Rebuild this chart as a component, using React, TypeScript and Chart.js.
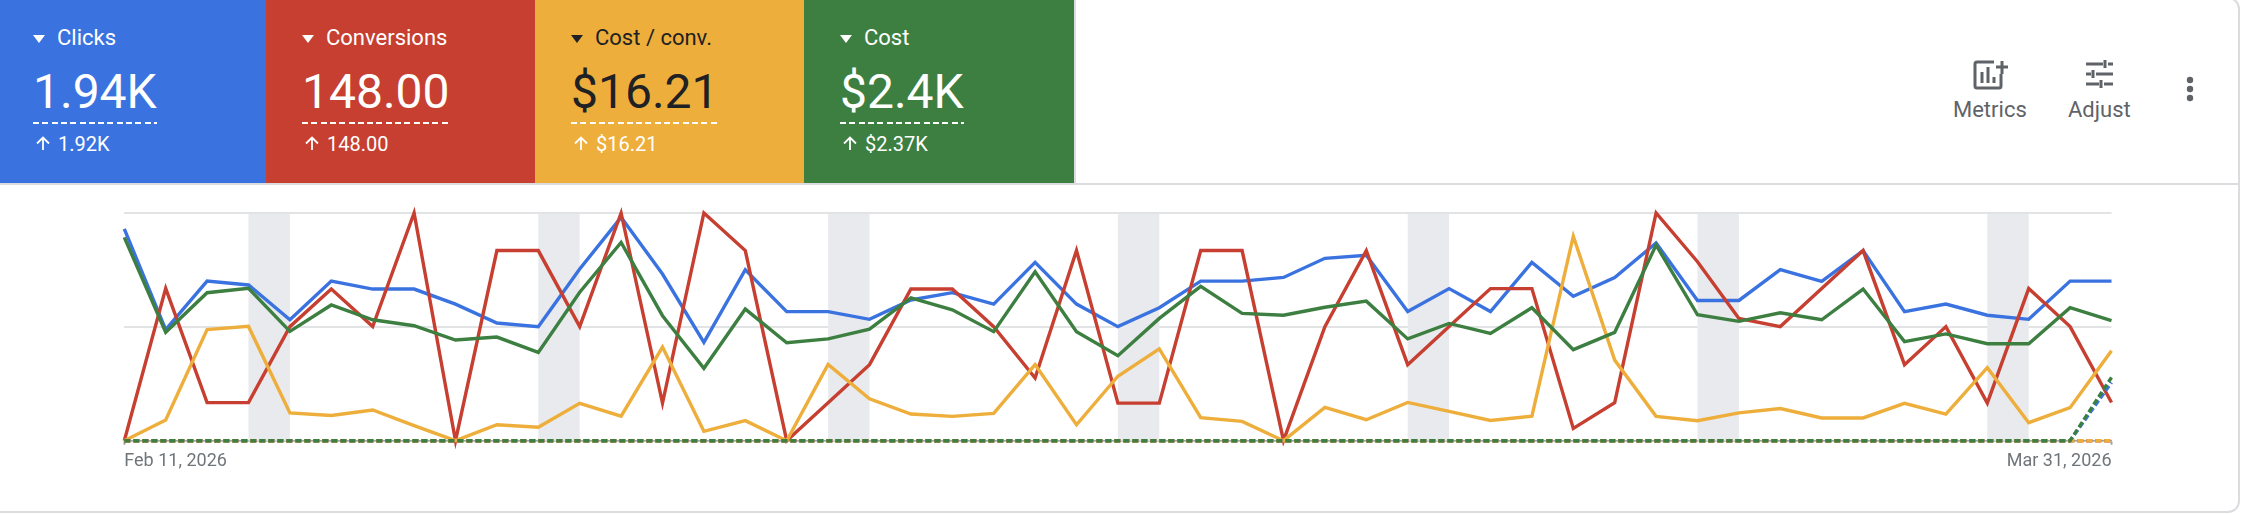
import React, { useRef, useEffect } from "react";
import { Chart, registerables } from "chart.js";

Chart.register(...registerables);

const dates = [
	"Feb 11, 2026", "Feb 12, 2026", "Feb 13, 2026", "Feb 14, 2026", "Feb 15, 2026", "Feb 16, 2026", "Feb 17, 2026",
	"Feb 18, 2026", "Feb 19, 2026", "Feb 20, 2026", "Feb 21, 2026", "Feb 22, 2026", "Feb 23, 2026", "Feb 24, 2026",
	"Feb 25, 2026", "Feb 26, 2026", "Feb 27, 2026", "Feb 28, 2026", "Mar 1, 2026", "Mar 2, 2026", "Mar 3, 2026",
	"Mar 4, 2026", "Mar 5, 2026", "Mar 6, 2026", "Mar 7, 2026", "Mar 8, 2026", "Mar 9, 2026", "Mar 10, 2026",
	"Mar 11, 2026", "Mar 12, 2026", "Mar 13, 2026", "Mar 14, 2026", "Mar 15, 2026", "Mar 16, 2026", "Mar 17, 2026",
	"Mar 18, 2026", "Mar 19, 2026", "Mar 20, 2026", "Mar 21, 2026", "Mar 22, 2026", "Mar 23, 2026", "Mar 24, 2026",
	"Mar 25, 2026", "Mar 26, 2026", "Mar 27, 2026", "Mar 28, 2026", "Mar 29, 2026", "Mar 30, 2026", "Mar 31, 2026",
];

// each metric is on its own hidden axis in the original, so values are % of axis height
const clicks = [
	93.0, 48.8, 70.1, 68.4, 53.1, 70.1, 66.6, 66.6, 60.0, 51.7, 50.1, 75.4, 98.1,
	73.2, 43.2, 75.1, 56.7, 56.7, 53.3, 61.8, 65.0, 60.0, 78.3, 60.0, 50.1, 58.4,
	70.1, 70.1, 71.7, 80.1, 81.4, 56.7, 66.8, 56.7, 78.3, 63.4, 71.7, 86.8, 61.6, 61.6,
	75.1, 70.0, 83.5, 56.7, 60.0, 55.1, 53.3, 70.1, 70.1,
];
const conversions = [
	0, 66.9, 16.7, 16.7, 50.1, 66.6, 50.1, 100, 0, 83.5, 83.5, 50.1, 100,
	16.5, 100, 83.5, 0, 16.7, 33.4, 66.6, 66.6, 50.1, 27.5, 83.5, 16.5, 16.5,
	83.5, 83.5, 0, 50.1, 83.5, 33.4, 50.1, 66.8, 66.8, 5.4, 16.7, 100, 78.6, 53.7,
	50.1, 66.8, 83.5, 33.4, 50.1, 16.5, 66.8, 50.1, 16.8,
];
const costPerConv = [
	0, 9.1, 48.8, 50.2, 12.2, 11.1, 13.5, 6.6, 0, 7.0, 5.9, 16.4, 10.8,
	41.1, 4.1, 8.8, 0, 33.5, 18.4, 11.7, 10.7, 12.0, 33.4, 7.0, 28.3, 40.3,
	10.1, 8.5, 0, 14.6, 9.2, 16.8, 12.9, 8.9, 10.8, 89.8, 35.4, 10.7, 8.8, 12.2,
	14.1, 10.0, 10.0, 16.4, 11.7, 32.1, 7.9, 14.5, 39.5,
];
const cost = [
	89.3, 47.6, 65.0, 66.9, 48.0, 59.6, 53.1, 50.5, 44.2, 45.5, 38.8, 65.2, 87.1,
	54.9, 31.8, 57.8, 43.0, 44.7, 49.0, 62.7, 57.5, 47.9, 74.2, 47.9, 37.3, 53.7,
	67.8, 55.9, 55.1, 58.6, 61.3, 44.7, 51.5, 47.1, 58.4, 40.0, 47.6, 85.9, 55.3, 52.4,
	56.2, 53.1, 66.6, 43.5, 46.9, 42.6, 42.6, 58.4, 52.7,
];

// comparison period, dashed
const prevClicks = [
	0, 0, 0, 0, 0, 0, 0, 0, 0, 0, 0, 0, 0, 0, 0, 0, 0, 0, 0, 0, 0, 0, 0, 0, 0,
	0, 0, 0, 0, 0, 0, 0, 0, 0, 0, 0, 0, 0, 0, 0, 0, 0, 0, 0, 0, 0, 0, 0, 25.6,
];
const prevConversions = [
	0, 0, 0, 0, 0, 0, 0, 0, 0, 0, 0, 0, 0, 0, 0, 0, 0, 0, 0, 0, 0, 0, 0, 0, 0,
	0, 0, 0, 0, 0, 0, 0, 0, 0, 0, 0, 0, 0, 0, 0, 0, 0, 0, 0, 0, 0, 0, 0, 0,
];
const prevCostPerConv = [
	0, 0, 0, 0, 0, 0, 0, 0, 0, 0, 0, 0, 0, 0, 0, 0, 0, 0, 0, 0, 0, 0, 0, 0, 0,
	0, 0, 0, 0, 0, 0, 0, 0, 0, 0, 0, 0, 0, 0, 0, 0, 0, 0, 0, 0, 0, 0, 0, 0,
];
const prevCost = [
	0, 0, 0, 0, 0, 0, 0, 0, 0, 0, 0, 0, 0, 0, 0, 0, 0, 0, 0, 0, 0, 0, 0, 0, 0,
	0, 0, 0, 0, 0, 0, 0, 0, 0, 0, 0, 0, 0, 0, 0, 0, 0, 0, 0, 0, 0, 0, 0, 27.8,
];

// first day of each weekend, the band runs to the next day
const weekendStarts = [3, 10, 17, 24, 31, 38, 45];

const cardTitles = ["Clicks", "Conversions", "Cost / conv.", "Cost"];
const cardValues = ["1.94K", "148.00", "$16.21", "$2.4K"];
const cardPrevious = ["1.92K", "148.00", "$16.21", "$2.37K"];

const BLUE = "#3a73e0";
const RED = "#c63f30";
const YELLOW = "#eeae3b";
const GREEN = "#3c7f41";
const cardColors = [BLUE, RED, YELLOW, GREEN];
const cardInk = ["#fff", "#fff", "#202124", "#fff"];
const cardLefts = [0, 266, 535, 804];
const cardWidths = [266, 269, 269, 270];
const cardInsets = [33, 36, 36, 36];

const FONT = "Roboto, sans-serif";

const weekendBands = {
	id: "weekendBands",
	beforeDatasetsDraw(chart: Chart) {
		const { ctx, chartArea, scales } = chart;
		ctx.save();
		ctx.fillStyle = "#e8eaed";
		weekendStarts.forEach((day) => {
			const left = scales.x.getPixelForValue(day);
			const right = scales.x.getPixelForValue(day + 1);
			ctx.fillRect(left, chartArea.top + 1, right - left, chartArea.height - 1);
		});
		ctx.restore();
	},
};

const TrendChart: React.FC = () => {
	const chartRef = useRef<HTMLCanvasElement | null>(null);

	useEffect(() => {
		if (!chartRef.current) return;
		const lastIndex = dates.length - 1;

		const solid = (data: number[], color: string) => ({
			data,
			borderColor: color,
			borderWidth: 3.4,
			pointRadius: 0,
			tension: 0,
			clip: false as const,
		});
		const dashed = (data: number[], color: string) => ({
			...solid(data, color),
			borderDash: [6, 3],
		});

		const chart = new Chart(chartRef.current, {
			type: "line",
			plugins: [weekendBands],
			data: {
				labels: dates,
				// chart.js paints the first dataset last when order is equal, so keep top-most first
				datasets: [
					dashed(prevCost, GREEN),
					dashed(prevCostPerConv, YELLOW),
					dashed(prevConversions, RED),
					dashed(prevClicks, BLUE),
					solid(cost, GREEN),
					solid(costPerConv, YELLOW),
					solid(conversions, RED),
					solid(clicks, BLUE),
				],
			},
			options: {
				animation: false,
				responsive: false,
				layout: {
					padding: { left: 124.3, right: 130.5, top: 213, bottom: 43.3 },
				},
				plugins: {
					legend: { display: false },
					tooltip: { enabled: false },
				},
				scales: {
					x: {
						afterFit: (scale) => {
							scale.height = 30;
						},
						border: { display: true, color: "#a0a3a6", width: 1.5 },
						grid: {
							drawOnChartArea: false,
							drawTicks: true,
							tickLength: 4,
							tickWidth: 2,
							tickColor: (ctx) =>
								ctx.index === 0 || ctx.index === lastIndex ? "#9aa0a6" : "rgba(0,0,0,0)",
						},
						ticks: {
							autoSkip: false,
							maxRotation: 0,
							minRotation: 0,
							align: "inner",
							padding: 6,
							color: "#70757a",
							font: { family: FONT, size: 18 },
							callback: (_value, index) =>
								index === 0 || index === lastIndex ? dates[index] : "",
						},
					},
					y: {
						min: 0,
						max: 100,
						afterFit: (scale) => {
							scale.width = 0;
						},
						border: { display: false },
						grid: { color: "#e2e3e4", lineWidth: 2, drawTicks: false },
						ticks: { display: false, stepSize: 50 },
					},
				},
			},
		});

		return () => {
			chart.destroy();
		};
	}, []);

	return (
		<canvas
			ref={chartRef}
			width={2242}
			height={514}
			style={{ position: "absolute", left: 0, top: 0 }}
		/>
	);
};

const MetricCard: React.FC<{ index: number }> = ({ index }) => {
	const ink = cardInk[index];
	const inset = cardInsets[index];
	return (
		<div
			style={{
				position: "absolute",
				left: cardLefts[index],
				top: 0,
				width: cardWidths[index],
				height: 183,
				background: cardColors[index],
				color: "#fff",
				fontFamily: FONT,
			}}
		>
			<div
				style={{
					position: "absolute",
					left: inset,
					top: 35,
					width: 0,
					height: 0,
					borderLeft: "6.5px solid transparent",
					borderRight: "6.5px solid transparent",
					borderTop: `8px solid ${ink}`,
				}}
			/>
			<div style={{ position: "absolute", left: inset + 24, top: 25, fontSize: 22, lineHeight: "26px", color: ink, whiteSpace: "nowrap" }}>
				{cardTitles[index]}
			</div>
			<div
				style={{
					position: "absolute",
					left: inset,
					top: 63,
					height: 61,
					fontSize: 48,
					lineHeight: "58px",
					color: ink,
					whiteSpace: "nowrap",
					backgroundImage: "repeating-linear-gradient(90deg, #fff 0 6px, transparent 6px 9.3px)",
					backgroundSize: "100% 2px",
					backgroundPosition: "left bottom",
					backgroundRepeat: "no-repeat",
				}}
			>
				{cardValues[index]}
			</div>
			<svg style={{ position: "absolute", left: inset + 3, top: 136 }} width={14} height={14} viewBox="0 0 14 14">
				<path d="M7 14V1.5M1 7.5l6-6 6 6" fill="none" stroke="#fff" strokeWidth={1.8} />
			</svg>
			<div style={{ position: "absolute", left: inset + 25, top: 132, fontSize: 20, lineHeight: "24px", whiteSpace: "nowrap" }}>
				{cardPrevious[index]}
			</div>
		</div>
	);
};

const Toolbar: React.FC = () => {
	const label: React.CSSProperties = {
		position: "absolute",
		top: 97,
		fontFamily: FONT,
		fontSize: 22,
		lineHeight: "26px",
		color: "#5f6368",
		whiteSpace: "nowrap",
	};
	return (
		<>
			<svg style={{ position: "absolute", left: 1972, top: 58 }} width={38} height={32} viewBox="0 0 38 32">
				<path d="M22 4H5a2 2 0 0 0-2 2v22a2 2 0 0 0 2 2h22a2 2 0 0 0 2-2V16" fill="none" stroke="#5f6368" strokeWidth={3} />
				<path d="M30 3v13M24 9h12M10 14v11M16 9v16M22 19v6" fill="none" stroke="#5f6368" strokeWidth={3} />
			</svg>
			<div style={{ ...label, left: 1953 }}>Metrics</div>
			<svg style={{ position: "absolute", left: 2083, top: 58 }} width={32} height={32} viewBox="0 0 32 32">
				<path d="M3 6h17M25 6h5M22 2v8M3 16h5M13 16h17M10 12v8M3 26h13M21 26h9M18 22v8" fill="none" stroke="#5f6368" strokeWidth={3} />
			</svg>
			<div style={{ ...label, left: 2068 }}>Adjust</div>
			<svg style={{ position: "absolute", left: 2184, top: 74 }} width={12} height={32} viewBox="0 0 12 32">
				<circle cx={6} cy={6} r={3.2} fill="#5f6368" />
				<circle cx={6} cy={15} r={3.2} fill="#5f6368" />
				<circle cx={6} cy={24} r={3.2} fill="#5f6368" />
			</svg>
		</>
	);
};

const App: React.FC = () => {
	return (
		<div style={{ position: "absolute", left: 0, top: 0, width: 2242, height: 514, overflow: "hidden", background: "#fff" }}>
			<div
				style={{
					position: "absolute",
					left: -12,
					top: -3,
					width: 2252,
					height: 516,
					boxSizing: "border-box",
					border: "2px solid #dadce0",
					borderRadius: 12,
				}}
			/>
			<div style={{ position: "absolute", left: 0, top: 183, width: 2239, height: 2, background: "#dadce0" }} />
			<div style={{ position: "absolute", left: 1074, top: 0, width: 2, height: 183, background: "#dadce0" }} />
			{cardTitles.map((_title, i) => (
				<MetricCard key={i} index={i} />
			))}
			<Toolbar />
			<TrendChart />
		</div>
	);
};

export default App;
